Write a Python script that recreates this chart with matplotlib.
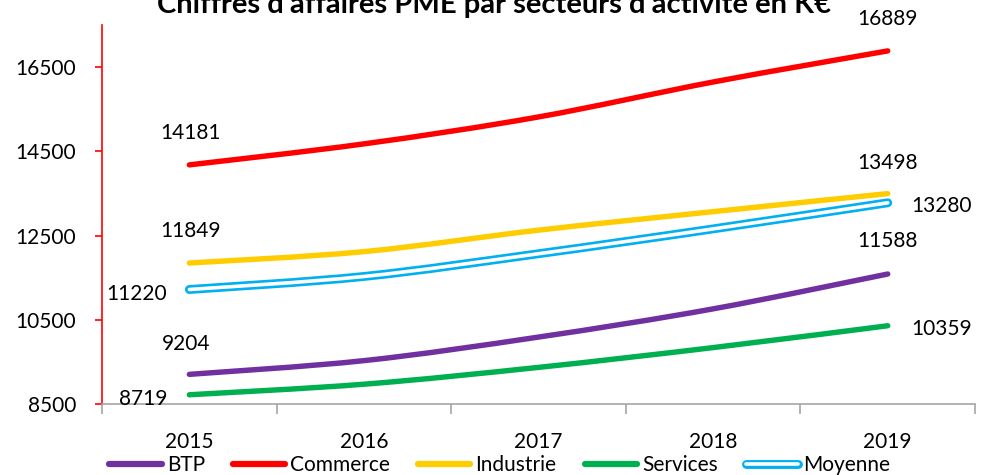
import numpy as np
from matplotlib import pyplot as plt
from matplotlib.path import Path
from matplotlib.patches import PathPatch
from matplotlib.lines import Line2D
from matplotlib.legend_handler import HandlerTuple

plt.rcParams['font.family'] = ['Lato', 'DejaVu Sans']

years = ['2015', '2016', '2017', '2018', '2019']
btp = [9204, 9530, 10090, 10760, 11588]
commerce = [14181, 14680, 15320, 16150, 16889]
industrie = [11849, 12120, 12630, 13070, 13498]
services = [8719, 8970, 9370, 9840, 10359]
moyenne = [11220, 11530, 12070, 12660, 13280]

series = [
    ('BTP', btp, '#7030A0'),
    ('Commerce', commerce, '#FF0000'),
    ('Industrie', industrie, '#FFCC00'),
    ('Services', services, '#00B050'),
]


def smooth_path(ys):
    # excel-like smoothed line as cubic bezier segments
    xs = np.arange(len(ys), dtype=float)
    ys = np.asarray(ys, dtype=float)
    verts = [(xs[0], ys[0])]
    codes = [Path.MOVETO]
    n = len(xs)
    for i in range(n - 1):
        x0, y0 = xs[max(i - 1, 0)], ys[max(i - 1, 0)]
        x1, y1 = xs[i], ys[i]
        x2, y2 = xs[i + 1], ys[i + 1]
        x3, y3 = xs[min(i + 2, n - 1)], ys[min(i + 2, n - 1)]
        c1 = (x1 + (x2 - x0) / 6, y1 + (y2 - y0) / 6)
        c2 = (x2 - (x3 - x1) / 6, y2 - (y3 - y1) / 6)
        verts += [c1, c2, (x2, y2)]
        codes += [Path.CURVE4] * 3
    return Path(verts, codes)


fig = plt.figure(figsize=(9.82, 4.75), dpi=100)
ax = fig.add_axes([0.1039, 0.1495, 0.889, 0.7975])

for name, vals, col in series:
    ax.add_patch(PathPatch(smooth_path(vals), facecolor='none', edgecolor=col,
                           lw=3.9, capstyle='round', joinstyle='round'))
ax.add_patch(PathPatch(smooth_path(moyenne), facecolor='none', edgecolor='#00B0F0',
                       lw=6.4, capstyle='round', joinstyle='round'))
ax.add_patch(PathPatch(smooth_path(moyenne), facecolor='none', edgecolor='white',
                       lw=2.6, capstyle='round', joinstyle='round'))

ax.set_xlim(-0.5, 4.5)
ax.set_ylim(8500, 17500)

fs = 15
lab = dict(fontsize=fs, color='black', textcoords='offset points')
# 2015 labels
ax.annotate(str(commerce[0]), (0, commerce[0]), xytext=(1, 23), ha='center', va='center', **lab)
ax.annotate(str(industrie[0]), (0, industrie[0]), xytext=(1, 23), ha='center', va='center', **lab)
ax.annotate(str(btp[0]), (0, btp[0]), xytext=(-2, 22), ha='center', va='center', **lab)
ax.annotate(str(services[0]), (0, services[0]), xytext=(-16, -3), ha='right', va='center', **lab)
ax.annotate(str(moyenne[0]), (0, moyenne[0]), xytext=(-16, -3), ha='right', va='center', **lab)
# 2019 labels
ax.annotate(str(commerce[-1]), (4, commerce[-1]), xytext=(0, 23), ha='center', va='center', **lab)
ax.annotate(str(industrie[-1]), (4, industrie[-1]), xytext=(0, 22), ha='center', va='center', **lab)
ax.annotate(str(btp[-1]), (4, btp[-1]), xytext=(0, 24), ha='center', va='center', **lab)
ax.annotate(str(moyenne[-1]), (4, moyenne[-1]), xytext=(17, -2), ha='left', va='center', **lab)
ax.annotate(str(services[-1]), (4, services[-1]), xytext=(17, -2), ha='left', va='center', **lab)

# y axis
ax.set_yticks(np.arange(8500, 17000, 2000))
ax.tick_params(axis='y', colors='red', length=5, width=1.2, pad=13.5, labelsize=fs, labelcolor='black')
ax.spines['left'].set_color('red')
ax.spines['left'].set_linewidth(1.2)

# x axis: boundaries as ticks, labels on categories
ax.set_xticks(np.arange(-0.5, 5, 1))
ax.set_xticklabels([])
ax.set_xticks(np.arange(5), minor=True)
ax.set_xticklabels(years, minor=True)
ax.tick_params(axis='x', which='major', colors='#A6A6A6', length=7, width=1.2)
ax.tick_params(axis='x', which='minor', length=0, pad=20, labelsize=fs, labelcolor='black')
ax.spines['bottom'].set_color('#A6A6A6')
ax.spines['bottom'].set_linewidth(1.2)
ax.spines['top'].set_visible(False)
ax.spines['right'].set_visible(False)

fig.text(0.503, 1 - 13 / 475, "Chiffres d'affaires PME par secteurs d'activité en K€",
         ha='center', va='baseline', fontsize=21, fontweight='bold')

handles = [Line2D([], [], color=c, lw=4.5, solid_capstyle='round') for _, _, c in series]
moy_handle = (Line2D([], [], color='#00B0F0', lw=6.4, solid_capstyle='round'),
              Line2D([], [], color='white', lw=2.6, solid_capstyle='round'))
handles.append(moy_handle)
labels = [s[0] for s in series] + ['Moyenne']
fig.legend(handles, labels, loc='center', bbox_to_anchor=(0.509, 0.021), ncol=5,
           frameon=False, fontsize=fs, handlelength=2.5, handletextpad=0.25,
           columnspacing=1.35, borderpad=0, handler_map={tuple: HandlerTuple(ndivide=1)})

fig.savefig('out.png', dpi=100)
